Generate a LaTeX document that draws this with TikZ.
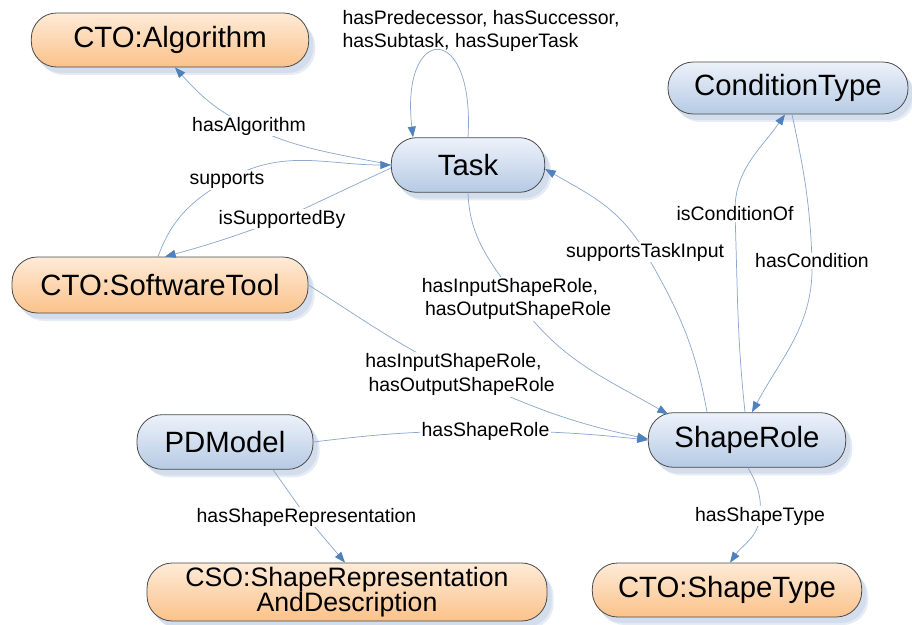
\documentclass[tikz,border=0pt]{standalone}
\usepackage{fontspec}
\setmainfont{Liberation Sans}
\usetikzlibrary{arrows.meta,shadows,calc}
\pgfdeclarelayer{edges}
\pgfdeclarelayer{lbls}
\pgfsetlayers{main,edges,lbls}
\definecolor{bluetop}{HTML}{EDF2FA}
\definecolor{bluebot}{HTML}{B6CAE4}
\definecolor{orgtop}{HTML}{FEEBD8}
\definecolor{orgbot}{HTML}{FBC28A}
\definecolor{borderc}{HTML}{4A4A4A}
\definecolor{shadowc}{HTML}{D3DDEC}
\definecolor{shadowd}{HTML}{E6ECF5}
\definecolor{linec}{HTML}{8CA8CE}
\definecolor{tipc}{HTML}{4F81BD}
\begin{document}
\begin{tikzpicture}[x=0.75pt,y=-0.75pt,
  box/.style={rectangle, rounded corners=19pt, draw=borderc, line width=0.6pt, inner sep=0pt,
    font=\fontsize{22}{26}\selectfont,
    drop shadow={shadow xshift=5pt, shadow yshift=-6pt, fill=shadowd, opacity=1},
    drop shadow={shadow xshift=3.5pt, shadow yshift=-4.5pt, fill=shadowc, opacity=1}},
  bluebox/.style={box, top color=bluetop, bottom color=bluebot},
  orgbox/.style={box, top color=orgtop, bottom color=orgbot},
  lbl/.style={fill=white, inner sep=1pt, font=\fontsize{14.6}{17.5}\selectfont, align=left},
  edge/.style={draw=linec, line width=0.55pt},
  arr/.style={edge, -{Triangle[length=8pt,width=6pt,fill=tipc,color=tipc]}}]
\path[use as bounding box] (0,0) rectangle (912,624);

% main nodes
\node[orgbox, minimum width=208pt, minimum height=40.5pt] (Alg) at (170,40) {CTO:Algorithm};
\node[bluebox, minimum width=115pt, minimum height=41pt] (Task) at (468,165) {Task};
\node[bluebox, minimum width=180pt, minimum height=39pt] (CT) at (788,88) {ConditionType};
\node[orgbox, minimum width=222pt, minimum height=42pt] (Soft) at (160,285) {CTO:SoftwareTool};
\node[bluebox, minimum width=132pt, minimum height=41pt] (PD) at (225,442) {PDModel};
\node[bluebox, minimum width=148pt, minimum height=41pt] (SR) at (747,440) {ShapeRole};
\node[orgbox, minimum width=300pt, minimum height=43.5pt, align=center,
  font=\fontsize{20}{18.75}\selectfont] (CSO) at (347,592) {CSO:ShapeRepresentation\\AndDescription};
\node[orgbox, minimum width=202pt, minimum height=40.5pt] (ST) at (727,590) {CTO:ShapeType};

% labels
\begin{pgfonlayer}{lbls}
\node[lbl, fill=none, inner sep=0pt] (lLoop) at (481,31) {hasPredecessor, hasSuccessor,\\hasSubtask, hasSuperTask};
\node[lbl] (lAlg) at (249,126) {hasAlgorithm};
\node[lbl] (lSup) at (227,180) {supports};
\node[lbl] (lISB) at (282,219) {isSupportedBy};
\node[lbl] (lSTI) at (645,252) {supportsTaskInput};
\node[lbl] (lICO) at (735,214) {isConditionOf};
\node[lbl] (lHC) at (812,261) {hasCondition};
\node[lbl] (lTSR) at (516.5,299) {hasInputShapeRole,\\\hspace*{2.5pt}hasOutputShapeRole};
\node[lbl] (lSSR) at (460,374.5) {hasInputShapeRole,\\\hspace*{2.5pt}hasOutputShapeRole};
\node[lbl] (lHSR) at (485.5,431) {hasShapeRole};
\node[lbl] (lHSRep) at (306.5,517) {hasShapeRepresentation};
\node[lbl] (lHST) at (760,516) {hasShapeType};
\end{pgfonlayer}

% edges
\begin{pgfonlayer}{edges}
\draw[arr] (Task.west) to[out=168,in=-25] (lAlg.center) to[out=155,in=-48] ($(Alg.south)+(5,0)$);
\draw[arr] ($(Soft.north)+(-2,0)$) to[out=70,in=-150] (lSup.center) to[out=30,in=180] (Task.west);
\draw[arr] ($(Task.west)+(0,3)$) to[out=-155,in=25] (lISB.center) to[out=-160,in=15] ($(Soft.north)+(5,0)$);
\draw[arr] (Task.north) .. controls +(7,-118) and +(-13,-113) .. ($(Task.north)+(-55,0)$);
\draw[arr] ($(SR.north)+(-40,0)$) to[out=100,in=-60] (lSTI.center) to[out=120,in=-30] ($(Task.east)+(0,4)$);
\draw[arr] ($(SR.north)+(-2,0)$) to[out=96,in=-88] (lICO.center) to[out=92,in=-125] ($(CT.south)+(-3,0)$);
\draw[arr] ($(CT.south)+(4,0)$) to[out=-78,in=92] (lHC.center) to[out=-88,in=62] ($(SR.north)+(5,0)$);
\draw[arr] (Task.south) to[out=-88,in=125] (lTSR.center) to[out=-55,in=150] ($(SR.north)+(-79,2)$);
\draw[arr] (Soft.east) to[out=-32,in=155] (lSSR.center) to[out=-25,in=168] ($(SR.west)+(0,-1)$);
\draw[arr] (PD.east) to[out=7,in=180] (lHSR.center) to[out=0,in=174] (SR.west);
\draw[arr] ($(PD.south)+(48,0)$) -- (lHSRep.center) -- ($(CSO.north)+(-2,0)$);
\draw[arr] ($(SR.south)+(1,0)$) to[out=-60,in=85] (lHST.center) to[out=-95,in=55] ($(ST.north)+(3,0)$);
\end{pgfonlayer}
\end{tikzpicture}
\end{document}
